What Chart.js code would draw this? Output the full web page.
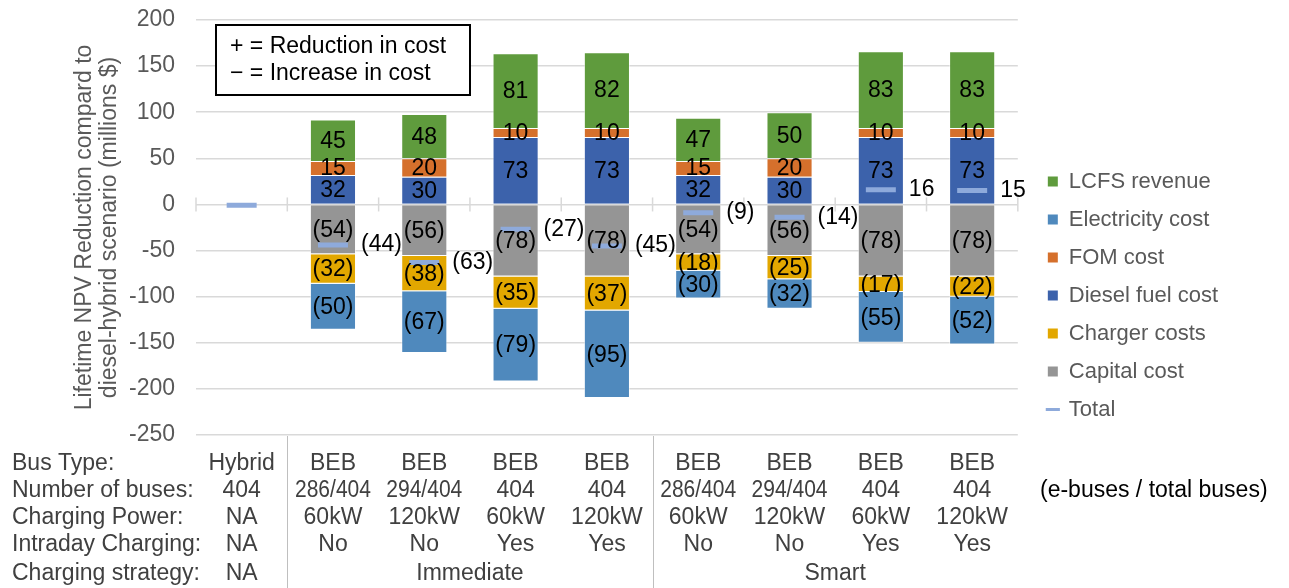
<!DOCTYPE html>
<html>
<head>
<meta charset="utf-8">
<script src="https://cdn.jsdelivr.net/npm/chart.js@4.4.1/dist/chart.umd.min.js"></script>
<style>
  html, body { margin: 0; padding: 0; background: #fff; }
  #wrap { width: 1289px; height: 588px; }
</style>
</head>
<body>
<div id="wrap"><canvas id="grafico" width="1289" height="588"></canvas></div>
<script>
// Table under the chart (one entry per scenario column)
const busType = ['Hybrid', 'BEB', 'BEB', 'BEB', 'BEB', 'BEB', 'BEB', 'BEB', 'BEB'];
const numBuses = ['404', '286/404', '294/404', '404', '404', '286/404', '294/404', '404', '404'];
const chargingPower = ['NA', '60kW', '120kW', '60kW', '120kW', '60kW', '120kW', '60kW', '120kW'];
const intradayCharging = ['NA', 'No', 'No', 'Yes', 'Yes', 'No', 'No', 'Yes', 'Yes'];
const strategyGroups = [['NA', 0, 0], ['Immediate', 1, 4], ['Smart', 5, 8]];
const rowLabels = ['Bus Type:', 'Number of buses:', 'Charging Power:', 'Intraday Charging:', 'Charging strategy:'];

// NPV reduction by component (millions $), positive = reduction in cost
const lcfsRevenue = [0, 45, 48, 81, 82, 47, 50, 83, 83];
const fomCost = [0, 15, 20, 10, 10, 15, 20, 10, 10];
const dieselCost = [0, 32, 30, 73, 73, 32, 30, 73, 73];
const capitalCost = [0, -54, -56, -78, -78, -54, -56, -78, -78];
const chargerCost = [0, -32, -38, -35, -37, -18, -25, -17, -22];
const electricityCost = [0, -50, -67, -79, -95, -30, -32, -55, -52];
const totalNPV = [-1, -44, -63, -27, -45, -9, -14, 16, 15];

const yMin = -250, yMax = 200, yStep = 50;

const FONT = '"Liberation Sans", Arial, sans-serif';
const totalColor = '#8eaadb';

function fmt(v) {
    return v < 0 ? '(' + (-v) + ')' : String(v);
}

// etiquetas dentro de las barras y totales a la derecha
const labelPlugin = {
    id: 'labels',
    afterDatasetsDraw(chart) {
        const ctx = chart.ctx;
        ctx.save();
        ctx.font = '23px ' + FONT;
        ctx.fillStyle = '#000';
        ctx.textBaseline = 'middle';
        chart.data.datasets.forEach((ds, di) => {
            const meta = chart.getDatasetMeta(di);
            meta.data.forEach((el, i) => {
                const v = ds.data[i];
                if (ds.type === 'line') {
                    if (i === 0) return;
                    ctx.textAlign = 'left';
                    ctx.fillText(fmt(v), el.x + 28, el.y);
                } else {
                    if (!v) return;
                    ctx.textAlign = 'center';
                    ctx.fillText(fmt(v), el.x, (el.y + el.base) / 2 + 1);
                }
            });
        });
        ctx.restore();
    }
};

// marcas en el eje cero, tabla inferior y cuadro de nota
const decorPlugin = {
    id: 'decor',
    beforeDatasetsDraw(chart) {
        const ctx = chart.ctx;
        const x = chart.scales.x, y = chart.scales.y;
        const y0 = y.getPixelForValue(0);
        ctx.save();
        ctx.strokeStyle = '#d9d9d9';
        ctx.lineWidth = 1.5;
        for (let i = 0; i <= busType.length; i++) {
            const px = i === 0 ? chart.chartArea.left
                : i === busType.length ? chart.chartArea.right
                : (x.getPixelForValue(i - 1) + x.getPixelForValue(i)) / 2;
            ctx.beginPath();
            ctx.moveTo(px, y0 - 7);
            ctx.lineTo(px, y0 + 7);
            ctx.stroke();
        }
        ctx.restore();
    },
    afterDraw(chart) {
        const ctx = chart.ctx;
        const x = chart.scales.x;
        const area = chart.chartArea;
        const rowY = [29, 56, 83, 110, 139].map(d => area.bottom + d);
        ctx.save();

        // separadores de grupos
        ctx.strokeStyle = '#bfbfbf';
        ctx.lineWidth = 1;
        [[0, 1], [4, 5]].forEach(([a, b]) => {
            const px = Math.round((x.getPixelForValue(a) + x.getPixelForValue(b)) / 2) + 0.5;
            ctx.beginPath();
            ctx.moveTo(px, area.bottom + 1);
            ctx.lineTo(px, 588);
            ctx.stroke();
        });

        ctx.font = '23px ' + FONT;
        ctx.fillStyle = '#404040';
        ctx.textBaseline = 'middle';
        ctx.textAlign = 'left';
        rowLabels.forEach((t, r) => ctx.fillText(t, 12, rowY[r]));

        ctx.textAlign = 'center';
        [busType, numBuses, chargingPower, intradayCharging].forEach((row, r) => {
            row.forEach((t, i) => ctx.fillText(t, x.getPixelForValue(i), rowY[r], 76));
        });
        strategyGroups.forEach(([t, a, b]) => {
            const px = (x.getPixelForValue(a) + x.getPixelForValue(b)) / 2;
            ctx.fillText(t, px, rowY[4]);
        });

        ctx.textAlign = 'left';
        ctx.fillStyle = '#000';
        ctx.fillText('(e-buses / total buses)', 1040, rowY[1]);

        // cuadro de nota
        ctx.strokeStyle = '#000';
        ctx.lineWidth = 2;
        ctx.fillStyle = '#fff';
        ctx.fillRect(area.left + 20, 25, 254, 70);
        ctx.strokeRect(area.left + 20, 25, 254, 70);
        ctx.fillStyle = '#000';
        ctx.fillText('+ = Reduction in cost', area.left + 34, 47);
        ctx.fillText('\u2212 = Increase in cost', area.left + 34, 74);
        ctx.restore();
    }
};

const barBase = {
    borderColor: 'rgba(255,255,255,0.5)',
    borderWidth: 1,
    barPercentage: 0.505,
    categoryPercentage: 1,
    pointStyle: 'rect'
};

const config = {
    type: 'bar',
    data: {
        labels: busType,
        datasets: [
            {
                type: 'line', label: 'Total', data: totalNPV, stack: 'total',
                showLine: false, pointStyle: 'line', pointRadius: 15, pointHoverRadius: 15,
                pointBorderWidth: 5, pointBorderColor: totalColor,
                borderColor: totalColor, backgroundColor: totalColor
            },
            Object.assign({ label: 'Capital cost', data: capitalCost, backgroundColor: '#959595' }, barBase),
            Object.assign({ label: 'Charger costs', data: chargerCost, backgroundColor: '#e2a700' }, barBase),
            Object.assign({ label: 'Diesel fuel cost', data: dieselCost, backgroundColor: '#3c62ab' }, barBase),
            Object.assign({ label: 'FOM cost', data: fomCost, backgroundColor: '#d5702c' }, barBase),
            Object.assign({ label: 'Electricity cost', data: electricityCost, backgroundColor: '#4f89bd' }, barBase),
            Object.assign({ label: 'LCFS revenue', data: lcfsRevenue, backgroundColor: '#5f9b3d' }, barBase)
        ]
    },
    options: {
        responsive: false,
        animation: false,
        layout: { padding: { top: 17, right: 61, bottom: 14, left: 0 } },
        scales: {
            x: {
                stacked: true,
                grid: { display: false },
                border: { display: false },
                ticks: { display: false },
                afterFit(s) { s.height = 139; }
            },
            y: {
                stacked: true,
                min: yMin,
                max: yMax,
                ticks: { stepSize: yStep, color: '#595959', font: { family: FONT, size: 23 }, padding: 21 },
                grid: { color: '#d9d9d9', lineWidth: 1.5, drawTicks: false },
                border: { display: false },
                title: {
                    display: true,
                    text: ['Lifetime NPV Reduction compard to', 'diesel-hybrid scenario (millions $)'],
                    color: '#595959',
                    font: { family: FONT, size: 23, lineHeight: 1.1 },
                    padding: { top: 72, bottom: 0 }
                },
                afterFit(s) {
                    s.width = 196;
                    s.paddingTop = 0;
                    s.paddingBottom = 0;
                }
            },
            yPad: {
                axis: 'y',
                position: 'right',
                display: true,
                grid: { display: false },
                border: { display: false },
                ticks: { display: false },
                afterFit(s) { s.width = 14; }
            }
        },
        plugins: {
            tooltip: { enabled: false },
            legend: {
                position: 'right',
                reverse: true,
                labels: {
                    color: '#595959',
                    font: { family: FONT, size: 22 },
                    usePointStyle: true,
                    boxWidth: 10,
                    boxHeight: 10,
                    padding: 16,
                    generateLabels(chart) {
                        const items = Chart.defaults.plugins.legend.labels.generateLabels(chart);
                        items.forEach(it => {
                            if (it.text === 'Total') {
                                it.pointStyle = 'line';
                                it.lineWidth = 3;
                                it.strokeStyle = totalColor;
                            } else {
                                it.pointStyle = 'rect';
                                it.lineWidth = 0;
                            }
                        });
                        return items;
                    }
                }
            }
        }
    },
    plugins: [labelPlugin, decorPlugin]
};

new Chart(document.getElementById('grafico').getContext('2d'), config);
</script>
</body>
</html>
